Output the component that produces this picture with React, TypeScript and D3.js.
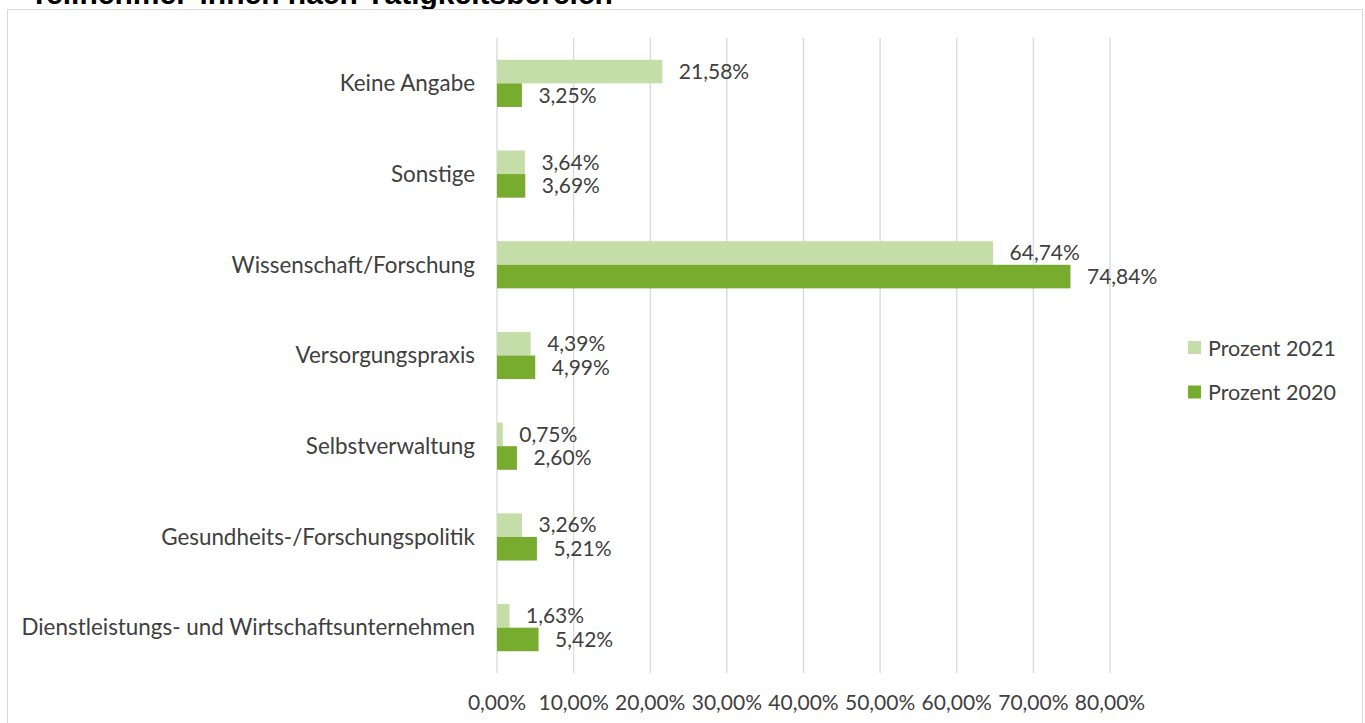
import React from "react";
import * as d3 from "d3";

const categories = [
  "Keine Angabe",
  "Sonstige",
  "Wissenschaft/Forschung",
  "Versorgungspraxis",
  "Selbstverwaltung",
  "Gesundheits-/Forschungspolitik",
  "Dienstleistungs- und Wirtschaftsunternehmen",
];
const values2021 = [21.58, 3.64, 64.74, 4.39, 0.75, 3.26, 1.63];
const values2020 = [3.25, 3.69, 74.84, 4.99, 2.6, 5.21, 5.42];
const seriesNames = ["Prozent 2021", "Prozent 2020"];
const xTicks = [0, 10, 20, 30, 40, 50, 60, 70, 80];
const title = "Teilnehmer*innen nach Tätigkeitsbereich";

const W = 1365;
const H = 723;
const FONT = "Lato, 'Open Sans', sans-serif";
const TEXT = "#404040";
const C21 = "#C5DDA8";
const C20 = "#77AC2E";

const fmt = (v: number) => v.toFixed(2).replace(".", ",") + "%";

export default function App() {
  const x = d3.scaleLinear().domain([0, 80]).range([497, 1110]);
  const y = d3.scaleBand<string>().domain(categories).range([38, 673]).paddingInner(0.48).paddingOuter(0.24);
  const bh = y.bandwidth() / 2;
  const series = [
    { name: seriesNames[0], vals: values2021, color: C21 },
    { name: seriesNames[1], vals: values2020, color: C20 },
  ];
  return (
    <svg width={W} height={H} style={{ position: "absolute", left: 0, top: 0, background: "#fff" }}>
      <rect x={0} y={0} width={W} height={H} fill="#fff" />
      <text x={30} y={4} fontFamily="'Liberation Sans', Arial, sans-serif" fontWeight="bold" fontSize={30} fill="#000">
        {title}
      </text>
      <rect x={7.5} y={9.5} width={1355} height={800} fill="none" stroke="#D9D9D9" strokeWidth={1} />
      {xTicks.map((t) => (
        <line key={"g" + t} x1={x(t)} x2={x(t)} y1={38} y2={673} stroke="#D9D9D9" strokeWidth={1.3} />
      ))}
      {series.map((s, si) =>
        categories.map((c, i) => {
          const y0 = (y(c) as number) + si * bh;
          const xe = x(s.vals[i]);
          return (
            <g key={s.name + c}>
              <rect x={x(0)} y={y0} width={xe - x(0)} height={bh} fill={s.color} />
              <text x={xe + 16.5} y={y0 + bh / 2} dy="0.35em" fontFamily={FONT} fontSize={21} fill={TEXT}>
                {fmt(s.vals[i])}
              </text>
            </g>
          );
        })
      )}
      {categories.map((c) => (
        <text key={"c" + c} x={475} y={(y(c) as number) + bh} dy="0.35em" textAnchor="end" fontFamily={FONT} fontSize={22.4} fill={TEXT}>
          {c}
        </text>
      ))}
      {xTicks.map((t) => (
        <text key={"t" + t} x={x(t)} y={703} dy="0.35em" textAnchor="middle" fontFamily={FONT} fontSize={21} fill={TEXT}>
          {t.toFixed(2).replace(".", ",") + "%"}
        </text>
      ))}
      {series.map((s, si) => (
        <g key={"l" + s.name}>
          <rect x={1188} y={341 + si * 44.5} width={13} height={13} fill={s.color} />
          <text x={1208} y={348 + si * 44.5} dy="0.35em" fontFamily={FONT} fontSize={21.5} fill={TEXT}>
            {s.name}
          </text>
        </g>
      ))}
    </svg>
  );
}
